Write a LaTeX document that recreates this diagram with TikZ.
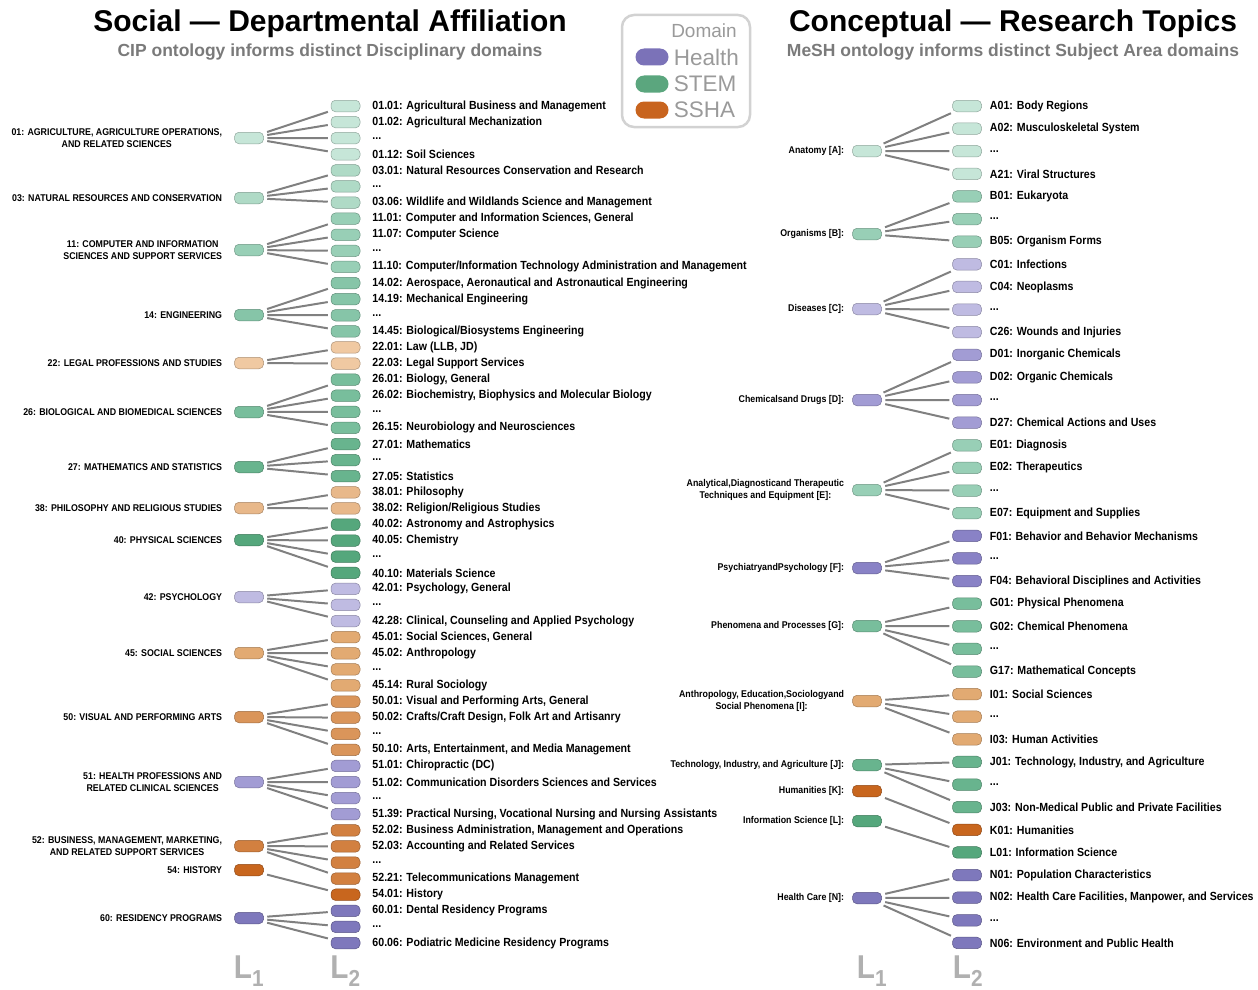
\documentclass[tikz,border=0pt]{standalone}
\usepackage{fontspec}
\setmainfont{Liberation Sans}
\newfontfamily\narrowsf[FakeStretch=0.9]{Liberation Sans}
\usetikzlibrary{positioning}

\definecolor{linkgray}{HTML}{808080}
\definecolor{subgray}{HTML}{7A7A7A}
\definecolor{levelgray}{HTML}{B0B0B0}
\definecolor{boxgray}{HTML}{D2D2D2}
\definecolor{keygray}{HTML}{9A9A9A}
\definecolor{health}{HTML}{7B72B8}
\definecolor{stem}{HTML}{5BA67E}
\definecolor{ssha}{HTML}{C8641E}
\definecolor{stemA}{HTML}{C6E6D8}
\definecolor{stemB}{HTML}{AFDAC6}
\definecolor{stemC}{HTML}{98CFB6}
\definecolor{stemD}{HTML}{86C5A8}
\definecolor{stemE}{HTML}{78BE9C}
\definecolor{stemF}{HTML}{68B48E}
\definecolor{stemG}{HTML}{55A77C}
\definecolor{sshaA}{HTML}{F0C9A2}
\definecolor{sshaB}{HTML}{E8B88A}
\definecolor{sshaC}{HTML}{E2AA72}
\definecolor{sshaD}{HTML}{DA955A}
\definecolor{sshaE}{HTML}{D28040}
\definecolor{sshaF}{HTML}{C8661E}
\definecolor{healthA}{HTML}{BFBBE2}
\definecolor{healthB}{HTML}{A29CD4}
\definecolor{healthC}{HTML}{7E78BC}
\definecolor{healthD}{HTML}{8982C6}

\begin{document}
\begin{tikzpicture}[x=1pt,y=-1pt]
  \tikzset{
    pill/.style={fill=#1, draw=#1!72!black, line width=0.5pt, rounded corners=4.5pt,
      minimum width=29pt, minimum height=11.5pt, inner sep=0pt},
    link/.style={draw=linkgray, line width=2pt, shorten <=3.5pt, shorten >=3pt},
    toptext/.style={font=\narrowsf\bfseries\fontsize{9.8}{12.5}\selectfont, align=center, inner sep=0pt},
    subtext/.style={font=\narrowsf\bfseries\fontsize{11.8}{13}\selectfont, inner sep=0pt},
    headline/.style={font=\bfseries\fontsize{30}{32}\selectfont},
    subline/.style={font=\bfseries\fontsize{17.5}{19}\selectfont, text=subgray},
    lvlmark/.style={text=levelgray, font=\narrowsf\bfseries\fontsize{33}{33}\selectfont},
    keypill/.style={fill=#1, rounded corners=8.5pt, minimum width=33pt, minimum height=17pt, inner sep=0pt},
    keytext/.style={text=keygray, font=\fontsize{22.5}{24}\selectfont, inner sep=0pt}
  }
  \useasboundingbox (0,0) rectangle (1258,990);

  % titles
  \node[headline] (socT) at (330,24) {Social --- Departmental Affiliation};
  \node[subline] (socS) at (330,52) {CIP ontology informs distinct Disciplinary domains};
  \node[headline] (conT) at (1013,24) {Conceptual --- Research Topics};
  \node[subline] (conS) at (1013,52) {MeSH ontology informs distinct Subject Area domains};

  % legend
  \node[draw=boxgray, line width=2.5pt, rounded corners=12pt, minimum width=128pt, minimum height=112pt] (legend) at (686,71) {};
  \node[keytext, font=\fontsize{19}{20}\selectfont] (domain) at (704,31) {Domain};
  \node[keypill=health] (keyH) at (652,57) {};
  \node[keytext, right=5pt of keyH] (keyHt) {Health};
  \node[keypill=stem] (keyS) at (652,84) {};
  \node[keytext, right=5pt of keyS] (keySt) {STEM};
  \node[keypill=ssha] (keyA) at (652,110) {};
  \node[keytext, right=5pt of keyA] (keyAt) {SSHA};

  % CIP: L1 -> L2
  \foreach \nm/\yy/\col/\first/\last/\txt in {
      c01/138/stemA/1/4/{01: AGRICULTURE, AGRICULTURE OPERATIONS,\\AND RELATED SCIENCES},
      c03/198/stemB/5/7/{03: NATURAL RESOURCES AND CONSERVATION},
      c11/250/stemC/8/11/{11: COMPUTER AND INFORMATION\\SCIENCES AND SUPPORT SERVICES},
      c14/315/stemD/12/15/{14: ENGINEERING},
      c22/363/sshaA/16/17/{22: LEGAL PROFESSIONS AND STUDIES},
      c26/412/stemE/18/21/{26: BIOLOGICAL AND BIOMEDICAL SCIENCES},
      c27/467/stemF/22/24/{27: MATHEMATICS AND STATISTICS},
      c38/508/sshaB/25/26/{38: PHILOSOPHY AND RELIGIOUS STUDIES},
      c40/540/stemG/27/30/{40: PHYSICAL SCIENCES},
      c42/597/healthA/31/33/{42: PSYCHOLOGY},
      c45/653/sshaC/34/37/{45: SOCIAL SCIENCES},
      c50/717/sshaD/38/41/{50: VISUAL AND PERFORMING ARTS},
      c51/782/healthB/42/45/{51: HEALTH PROFESSIONS AND\\RELATED CLINICAL SCIENCES},
      c52/846/sshaE/46/49/{52: BUSINESS, MANAGEMENT, MARKETING,\\AND RELATED SUPPORT SERVICES},
      c54/870/sshaF/50/50/{54: HISTORY},
      c60/918/healthC/51/53/{60: RESIDENCY PROGRAMS}}{
    \node[pill=\col, label={[toptext, label distance=12pt]left:{\txt}}] (\nm) at (249,\yy) {};
    \foreach \k in {\first,...,\last}
      \node[pill=\col] (cip\k) at (345.5,{106+16.096*(\k-1)}) {};
    \foreach \k in {\first,...,\last}
      \draw[link] (\nm) -- (cip\k);
  }
  \foreach \k/\txt in {
      1/{01.01: Agricultural Business and Management},
      2/{01.02: Agricultural Mechanization},
      3/{...},
      4/{01.12: Soil Sciences},
      5/{03.01: Natural Resources Conservation and Research},
      6/{...},
      7/{03.06: Wildlife and Wildlands Science and Management},
      8/{11.01: Computer and Information Sciences, General},
      9/{11.07: Computer Science},
      10/{...},
      11/{11.10: Computer/Information Technology Administration and Management},
      12/{14.02: Aerospace, Aeronautical and Astronautical Engineering},
      13/{14.19: Mechanical Engineering},
      14/{...},
      15/{14.45: Biological/Biosystems Engineering},
      16/{22.01: Law (LLB, JD)},
      17/{22.03: Legal Support Services},
      18/{26.01: Biology, General},
      19/{26.02: Biochemistry, Biophysics and Molecular Biology},
      20/{...},
      21/{26.15: Neurobiology and Neurosciences},
      22/{27.01: Mathematics},
      23/{...},
      24/{27.05: Statistics},
      25/{38.01: Philosophy},
      26/{38.02: Religion/Religious Studies},
      27/{40.02: Astronomy and Astrophysics},
      28/{40.05: Chemistry},
      29/{...},
      30/{40.10: Materials Science},
      31/{42.01: Psychology, General},
      32/{...},
      33/{42.28: Clinical, Counseling and Applied Psychology},
      34/{45.01: Social Sciences, General},
      35/{45.02: Anthropology},
      36/{...},
      37/{45.14: Rural Sociology},
      38/{50.01: Visual and Performing Arts, General},
      39/{50.02: Crafts/Craft Design, Folk Art and Artisanry},
      40/{...},
      41/{50.10: Arts, Entertainment, and Media Management},
      42/{51.01: Chiropractic (DC)},
      43/{51.02: Communication Disorders Sciences and Services},
      44/{...},
      45/{51.39: Practical Nursing, Vocational Nursing and Nursing Assistants},
      46/{52.02: Business Administration, Management and Operations},
      47/{52.03: Accounting and Related Services},
      48/{...},
      49/{52.21: Telecommunications Management},
      50/{54.01: History},
      51/{60.01: Dental Residency Programs},
      52/{...},
      53/{60.06: Podiatric Medicine Residency Programs}}
    \node[subtext, right=12pt of cip\k] (cipt\k) {\txt};

  % MeSH: L1 -> L2
  \foreach \nm/\yy/\col/\first/\last/\txt in {
      mA/151/stemA/1/4/{Anatomy [A]:},
      mB/234/stemC/5/7/{Organisms [B]:},
      mC/309/healthA/8/11/{Diseases [C]:},
      mD/400/healthB/12/15/{Chemicalsand Drugs [D]:},
      mE/490/stemC/16/19/{Analytical,Diagnosticand Therapeutic\\Techniques and Equipment [E]:},
      mF/568/healthD/20/22/{PsychiatryandPsychology [F]:},
      mG/626/stemE/23/26/{Phenomena and Processes [G]:},
      mI/701/sshaC/27/29/{Anthropology, Education,Sociologyand\\Social Phenomena [I]:},
      mJ/765/stemF/30/32/{Technology, Industry, and Agriculture [J]:},
      mK/791/sshaF/33/33/{Humanities [K]:},
      mL/821/stemG/34/34/{Information Science [L]:},
      mN/898/healthC/35/38/{Health Care [N]:}}{
    \node[pill=\col, label={[toptext, label distance=8pt]left:{\txt}}] (\nm) at (867,\yy) {};
    \foreach \k in {\first,...,\last}
      \node[pill=\col] (mesh\k) at (967,{106+22.62*(\k-1)}) {};
    \foreach \k in {\first,...,\last}
      \draw[link] (\nm) -- (mesh\k);
  }
  \foreach \k/\txt in {
      1/{A01: Body Regions},
      2/{A02: Musculoskeletal System},
      3/{...},
      4/{A21: Viral Structures},
      5/{B01: Eukaryota},
      6/{...},
      7/{B05: Organism Forms},
      8/{C01: Infections},
      9/{C04: Neoplasms},
      10/{...},
      11/{C26: Wounds and Injuries},
      12/{D01: Inorganic Chemicals},
      13/{D02: Organic Chemicals},
      14/{...},
      15/{D27: Chemical Actions and Uses},
      16/{E01: Diagnosis},
      17/{E02: Therapeutics},
      18/{...},
      19/{E07: Equipment and Supplies},
      20/{F01: Behavior and Behavior Mechanisms},
      21/{...},
      22/{F04: Behavioral Disciplines and Activities},
      23/{G01: Physical Phenomena},
      24/{G02: Chemical Phenomena},
      25/{...},
      26/{G17: Mathematical Concepts},
      27/{I01: Social Sciences},
      28/{...},
      29/{I03: Human Activities},
      30/{J01: Technology, Industry, and Agriculture},
      31/{...},
      32/{J03: Non-Medical Public and Private Facilities},
      33/{K01: Humanities},
      34/{L01: Information Science},
      35/{N01: Population Characteristics},
      36/{N02: Health Care Facilities, Manpower, and Services},
      37/{...},
      38/{N06: Environment and Public Health}}
    \node[subtext, right=8pt of mesh\k] (mesht\k) {\txt};

  % level marks
  \node[lvlmark] (cipL1) at (249,971) {L\textsubscript{1}};
  \node[lvlmark] (cipL2) at (345.5,971) {L\textsubscript{2}};
  \node[lvlmark] (meshL1) at (872,971) {L\textsubscript{1}};
  \node[lvlmark] (meshL2) at (968,971) {L\textsubscript{2}};
\end{tikzpicture}
\end{document}
